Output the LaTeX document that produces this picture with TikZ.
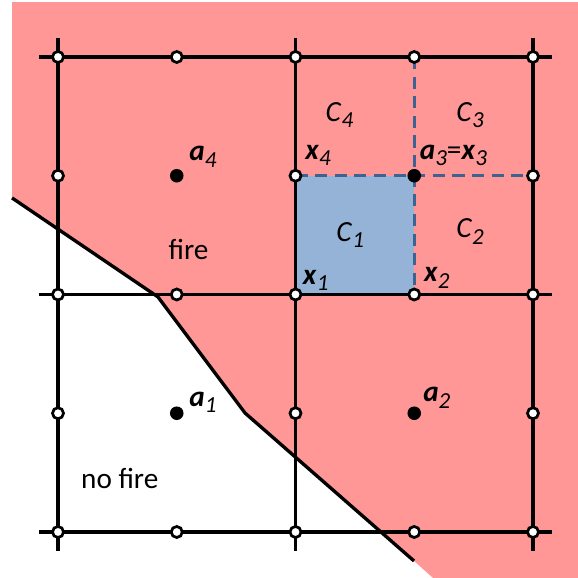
\documentclass[tikz,border=0pt]{standalone}
\usepackage{fontspec}
\setmainfont{Carlito}
\usetikzlibrary{calc}
\definecolor{firepink}{RGB}{255,151,151}
\definecolor{cellblue}{RGB}{149,179,215}
\definecolor{dashblue}{RGB}{62,98,146}
\tikzset{
  gridline/.style={line width=1.9pt, black, shorten <=-0.32cm, shorten >=-0.32cm},
  frontline/.style={line width=1.6pt, black},
  dashline/.style={line width=1.6pt, dashblue, dash pattern=on 5.8pt off 3.6pt},
  vnode/.style={circle, draw=black, fill=white, line width=1.3pt,
                minimum size=5.3pt, inner sep=0pt},
  adot/.style={circle, fill=black, minimum size=6.5pt, inner sep=0pt},
  lbl/.style={font=\fontsize{14}{16}\selectfont, inner sep=0pt},
}
\newcommand{\isub}[2]{\textit{#1}\raisebox{-0.45ex}{\fontsize{11}{13}\selectfont\itshape #2}}
\newcommand{\bsub}[2]{\textbf{\textit{#1}}\raisebox{-0.45ex}{\fontsize{11}{13}\selectfont\itshape #2}}

\begin{document}
\begin{tikzpicture}[x=2cm,y=2cm]
  \useasboundingbox (-0.4884,-0.387) rectangle (4.379,4.480);
  % grid points p(i,j)
  \foreach \i in {0,...,4}{
    \foreach \j in {0,...,4}{
      \coordinate (p\i\j) at (\i,\j);
    }
  }
  % fire front
  \coordinate (f0) at (-0.387,2.813);
  \coordinate (f1) at (0.842,1.979);
  \coordinate (f2) at (1.575,1.002);
  \coordinate (f3) at (2.998,-0.244);
  \fill[firepink] (f0) -- (-0.387,4.463) -- (4.379,4.463) -- (4.379,-0.387)
    -- (3.158,-0.387) -- (f3) -- (f2) -- (f1) -- cycle;
  % cell C1
  \fill[cellblue] (p22) rectangle (p33);
  \draw[frontline] (f0) -- (f1) -- (f2) -- (f3);
  % coarse grid
  \foreach \k in {0,2,4}{
    \draw[gridline] (p0\k) -- (p4\k);
    \draw[gridline] (p\k0) -- (p\k4);
  }
  % sub-cell lines
  \draw[dashline] (p34) -- (p32);
  \draw[dashline] (p23) -- (p43);
  % vertices
  \foreach \i in {0,...,4}{
    \foreach \j in {0,2,4}{
      \node[vnode] (n\i\j) at (p\i\j) {};
    }
  }
  \foreach \i in {0,2,4}{
    \foreach \j in {1,3}{
      \node[vnode] (n\i\j) at (p\i\j) {};
    }
  }
  % cell centres
  \node[adot] (a1) at (p11) {};
  \node[adot] (a2) at (p31) {};
  \node[adot] (a3) at (p33) {};
  \node[adot] (a4) at (p13) {};
  % labels
  \node[lbl] (lC4) at (2+0.37,3+0.51) {\isub{C}{4}};
  \node[lbl] (lC3) at (3+0.47,3+0.51) {\isub{C}{3}};
  \node[lbl] (lC1) at (2+0.46,2+0.50) {\isub{C}{1}};
  \node[lbl] (lC2) at (3+0.47,2+0.53) {\isub{C}{2}};
  \node[lbl] (lx4) at (2+0.19,3+0.17) {\bsub{x}{4}};
  \node[lbl] (lx3) at (3+0.33,3+0.17) {\bsub{a}{3}=\bsub{x}{3}};
  \node[lbl] (lx1) at (2+0.17,2+0.12) {\bsub{x}{1}};
  \node[lbl] (lx2) at (3+0.19,2+0.14) {\bsub{x}{2}};
  \node[lbl] (la4) at (1+0.22,3+0.16) {\bsub{a}{4}};
  \node[lbl] (la1) at (1+0.22,1+0.09) {\bsub{a}{1}};
  \node[lbl] (la2) at (3+0.19,1+0.13) {\bsub{a}{2}};
  \node[lbl] (lfire) at (1.10,2.38) {fire};
  \node[lbl] (lnofire) at (0.52,0.45) {no fire};
\end{tikzpicture}
\end{document}
